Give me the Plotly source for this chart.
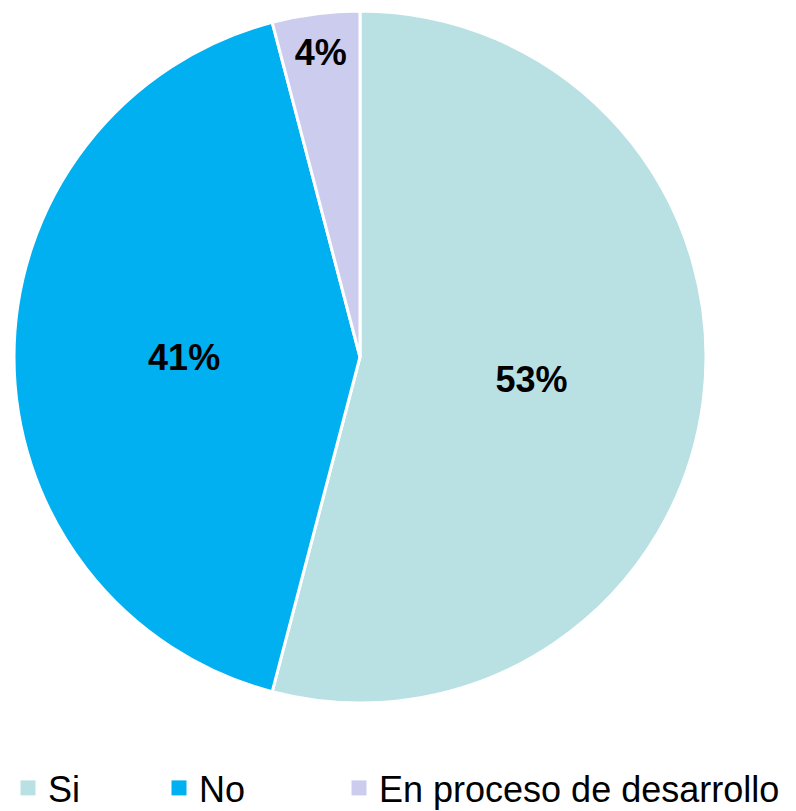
import plotly.graph_objects as go

labels = ["Si", "No", "En proceso de desarrollo"]
values = [53, 41, 4]
colors = ["#B9E1E3", "#00B0F0", "#CCCCEE"]

FONT = "Liberation Sans, Arial, sans-serif"

fig = go.Figure()
fig.add_trace(go.Pie(
    labels=labels,
    values=values,
    sort=False,
    direction="clockwise",
    rotation=0,
    marker=dict(colors=colors, line=dict(color="white", width=3)),
    texttemplate="<b>%{value}%</b>",
    textposition="inside",
    insidetextorientation="horizontal",
    textfont=dict(family=FONT, size=36, color="black"),
    hoverinfo="label+value",
    showlegend=False,
))

# legend entries (one legend per category so they can be spaced like the reference)
legend_names = ["legend", "legend2", "legend3"]
legend_x = [20, 178, 358]  # marker centre positions in px
for lab, col, lg in zip(labels, colors, legend_names):
    fig.add_trace(go.Scatter(
        x=[None], y=[None], mode="markers", name=lab,
        marker=dict(symbol="square", size=15, color=col),
        legend=lg, showlegend=True, hoverinfo="skip",
    ))

legend_common = dict(
    orientation="h",
    xref="container", yref="container",
    yanchor="middle", y=(811 - 780) / 811,
    xanchor="left",
    font=dict(family=FONT, size=36, color="black"),
    bgcolor="rgba(0,0,0,0)",
)

layout_legends = {}
for lg, xpx in zip(legend_names, legend_x):
    layout_legends[lg] = dict(legend_common, x=max(xpx - 27, 0) / 796)

fig.update_layout(
    width=796, height=811,
    margin=dict(l=6, r=98, t=3, b=116),
    paper_bgcolor="white",
    plot_bgcolor="white",
    xaxis=dict(visible=False),
    yaxis=dict(visible=False),
    **layout_legends,
)

fig.write_html("out.html")
